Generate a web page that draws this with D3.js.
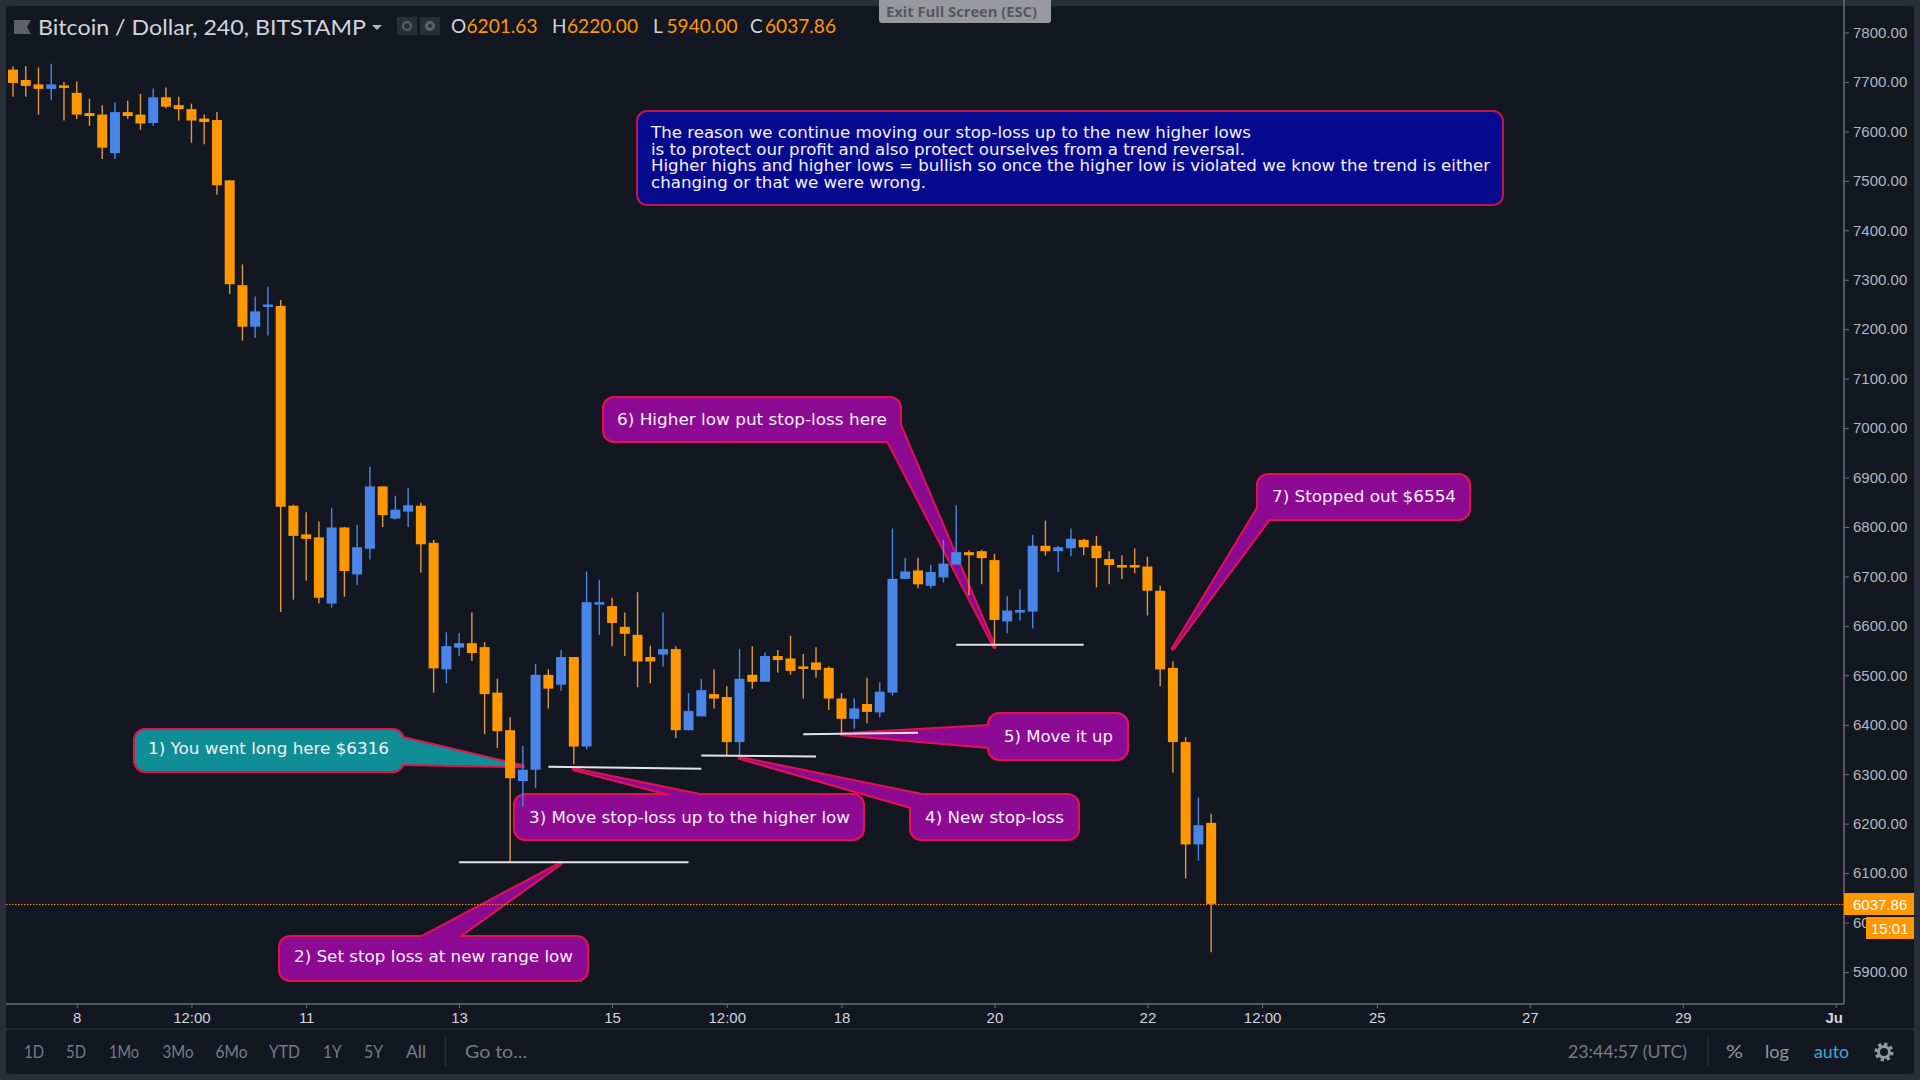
<!DOCTYPE html>
<html lang="en">
<head>
<meta charset="UTF-8">
<title>Bitcoin / Dollar, 240, BITSTAMP</title>
<style>
    html, body { margin: 0; padding: 0; background: #2a2e39; }
    svg { display: block; }
    .ui { font-family: Lato, "Open Sans", sans-serif; }
    .note { font-family: "DejaVu Sans", sans-serif; fill: #f4f0fa; }
    .axis text { font-family: "Liberation Sans", Arial, sans-serif; font-size: 15px; }
</style>
</head>
<body>
<svg id="chart" width="1920" height="1080"></svg>
<script src="https://d3js.org/d3.v7.min.js"></script>
<script>
// 4h candles, first bar is 7 June 04:00
const opens = [7725,7704,7695,7686,7693,7678,7637,7634,7556,7639,7634,7617,7669,7653,7645,7626,7623,7501,7289,7205,7245,7247,6843,6785,6779,6645,6799,6704,6756,6882,6817,6831,6843,6768,6512,6556,6565,6557,6465,6389,6286,6309,6501,6481,6537,6356,6644,6640,6598,6582,6537,6542,6553,6389,6417,6462,6456,6365,6501,6487,6539,6534,6518,6526,6515,6453,6412,6442,6425,6465,6695,6712,6681,6698,6724,6749,6751,6733,6609,6629,6629,6762,6751,6757,6774,6762,6735,6723,6723,6720,6671,6515,6365,6158,6201.63];
const highs = [7731,7732,7729,7737,7700,7701,7666,7653,7659,7662,7676,7687,7689,7670,7656,7634,7639,7501,7331,7266,7286,7259,6845,6830,6811,6838,6800,6804,6922,6882,6863,6879,6849,6774,6587,6585,6627,6567,6493,6415,6357,6523,6512,6551,6537,6710,6693,6657,6627,6668,6560,6627,6559,6464,6493,6512,6478,6553,6559,6546,6551,6580,6543,6557,6518,6464,6453,6495,6486,6797,6738,6738,6723,6774,6844,6753,6754,6746,6660,6674,6784,6813,6762,6797,6776,6782,6751,6743,6757,6740,6681,6528,6375,6253,6220];
const lows = [7670,7670,7634,7663,7622,7625,7611,7544,7544,7625,7603,7611,7647,7622,7577,7574,7472,7271,7177,7182,7187,6628,6653,6692,6645,6637,6659,6682,6734,6800,6815,6800,6708,6465,6484,6539,6529,6381,6353,6122,6234,6272,6433,6469,6320,6350,6582,6559,6539,6476,6484,6518,6373,6389,6417,6433,6339,6339,6473,6487,6505,6501,6453,6495,6430,6381,6392,6403,6415,6459,6695,6676,6676,6688,6724,6662,6684,6561,6585,6611,6595,6742,6709,6741,6743,6678,6684,6695,6706,6621,6478,6303,6089,6125,5940];
const closes = [7698,7692,7686,7695,7689,7634,7631,7567,7639,7631,7616,7669,7650,7645,7622,7619,7491,7291,7205,7236,7250,6841,6782,6776,6657,6799,6711,6759,6882,6824,6835,6844,6765,6514,6559,6565,6545,6462,6387,6292,6309,6501,6473,6537,6356,6648,6648,6606,6584,6528,6528,6553,6389,6428,6470,6453,6365,6493,6487,6539,6531,6509,6513,6511,6453,6412,6433,6426,6467,6695,6710,6684,6709,6726,6749,6743,6737,6612,6631,6632,6762,6751,6759,6776,6759,6737,6723,6720,6718,6671,6512,6365,6158,6197,6037.86];

const priceTicks = d3.range(5900, 7900, 100);
const timeBars = [5, 14, 23, 35, 47, 56, 65, 77, 89, 98, 107, 119, 131, 143];
const timeLabels = ['8', '12:00', '11', '13', '15', '12:00', '18', '20', '22', '12:00', '25', '27', '29', 'Ju'];

const rangeLabels = ['1D', '5D', '1Mo', '3Mo', '6Mo', 'YTD', '1Y', '5Y', 'All'];
const rangeX = [24, 66, 109, 162.5, 215.5, 269, 323, 364, 406];
const rangeW = [20, 20, 30, 31, 32, 31, 18.5, 19, 20];

const noteLines = [
    'The reason we continue moving our stop-loss up to the new higher lows',
    'is to protect our profit and also protect ourselves from a trend reversal.',
    'Higher highs and higher lows = bullish so once the higher low is violated we know the trend is either',
    'changing or that we were wrong.'
];
const noteWidths = [600, 594, 839, 275];

const calloutTexts = [
    '1) You went long here $6316',
    '2) Set stop loss at new range low',
    '3) Move stop-loss up to the higher low',
    '4) New stop-loss',
    '5) Move it up',
    '6) Higher low put stop-loss here',
    '7) Stopped out $6554'
];
const calloutBars = [40, 43, 44, 57, 65, 77, 91];
const calloutPrices = [6316, 6120, 6310, 6333, 6381, 6557, 6554];

// trend lines: bar from, price from, bar to, price to
const stopLines = [
    [35, 6122, 53, 6122],
    [42, 6315, 54, 6311],
    [54, 6338, 63, 6336],
    [62, 6381, 71, 6384],
    [74, 6562, 84, 6562]
];

// box and wedge base in page pixels
const calloutLayout = [
    { x: 135, y: 730, w: 268, h: 41, base: [[403, 738], [403, 764]], tx: 148, ty: 754, tw: 241, fill: '#0f8f95' },
    { x: 280, y: 937, w: 307, h: 43, base: [[422, 937], [458, 937]], tx: 294, ty: 962, tw: 279, fill: '#8d0b92' },
    { x: 515, y: 795, w: 348, h: 44, base: [[673, 795], [700, 795]], tx: 529, ty: 823, tw: 321, fill: '#8d0b92' },
    { x: 911, y: 795, w: 167, h: 44, base: [[922, 795], [911, 807]], tx: 925, ty: 823, tw: 139, fill: '#8d0b92' },
    { x: 989, y: 714, w: 138, h: 45, base: [[989, 726], [989, 747]], tx: 1004, ty: 741.5, tw: 109, fill: '#8d0b92' },
    { x: 604, y: 398, w: 296, h: 43, base: [[888, 441], [900, 425]], tx: 617, ty: 424.5, tw: 270, fill: '#8d0b92' },
    { x: 1258, y: 475, w: 211, h: 44, base: [[1258, 508], [1269, 519]], tx: 1272, ty: 502, tw: 184, fill: '#8d0b92' }
];

const orange = '#ff9800', blue = '#4a86e8', panel = '#131722', crimson = '#e3124f';
const last = opens.length - 1;
const svg = d3.select('#chart');

const x = d3.scaleLinear().domain([0, 143]).range([13, 1835.7]);
const y = d3.scaleLinear().domain([5900, 7800]).range([972, 32.5]);

svg.append('rect').attr('x', 6).attr('y', 6).attr('width', 1908).attr('height', 1068).attr('rx', 4).attr('fill', panel);

// drawings sit under the candles: thick stroke first, then the fill on top gives one outline
const bubbles = svg.append('g');
calloutLayout.forEach((c, i) => {
    const wedge = [[x(calloutBars[i]), y(calloutPrices[i])], c.base[0], c.base[1]];
    const shape = g => {
        g.append('rect').attr('x', c.x).attr('y', c.y).attr('width', c.w).attr('height', c.h).attr('rx', 10);
        g.append('path').attr('d', d3.line()(wedge) + 'Z');
    };
    bubbles.append('g').attr('fill', crimson).attr('stroke', crimson).attr('stroke-width', 4).attr('stroke-linejoin', 'round').call(shape);
    bubbles.append('g').attr('fill', c.fill).call(shape);
});

// candles
const candle = svg.append('g').selectAll('g').data(opens).join('g')
    .attr('fill', (d, i) => closes[i] >= d ? blue : orange)
    .attr('stroke', (d, i) => closes[i] >= d ? blue : '#e0993a');
candle.append('line')
    .attr('x1', (d, i) => x(i)).attr('x2', (d, i) => x(i))
    .attr('y1', (d, i) => y(highs[i])).attr('y2', (d, i) => y(lows[i]))
    .attr('stroke-width', 1.4);
candle.append('rect')
    .attr('x', (d, i) => x(i) - 5).attr('width', 10)
    .attr('y', (d, i) => y(Math.max(d, closes[i])))
    .attr('height', (d, i) => Math.max(2.5, Math.abs(y(d) - y(closes[i]))))
    .attr('stroke', 'none');

svg.append('g').selectAll('line').data(stopLines).join('line')
    .attr('x1', d => x(d[0])).attr('y1', d => y(d[1]))
    .attr('x2', d => x(d[2])).attr('y2', d => y(d[3]))
    .attr('stroke', '#e4e4e8').attr('stroke-width', 2);

svg.append('g').selectAll('text').data(calloutTexts).join('text')
    .attr('class', 'note')
    .attr('x', (d, i) => calloutLayout[i].tx)
    .attr('y', (d, i) => calloutLayout[i].ty)
    .attr('font-size', 16)
    .attr('textLength', (d, i) => calloutLayout[i].tw)
    .attr('lengthAdjust', 'spacingAndGlyphs')
    .text(d => d);

// info box
svg.append('rect').attr('x', 637).attr('y', 111).attr('width', 866).attr('height', 94).attr('rx', 10)
    .attr('fill', '#060a8e').attr('stroke', '#c2134f').attr('stroke-width', 2);
svg.append('g').selectAll('text').data(noteLines).join('text')
    .attr('class', 'note')
    .attr('x', 651)
    .attr('y', (d, i) => 138 + i * 16.5)
    .attr('font-size', 16)
    .attr('textLength', (d, i) => noteWidths[i])
    .attr('lengthAdjust', 'spacingAndGlyphs')
    .text(d => d);

// axes
const yAxis = svg.append('g').attr('class', 'axis').attr('transform', 'translate(1844,0)')
    .call(d3.axisRight(y).tickValues(priceTicks).tickFormat(d3.format('.2f')).tickSize(5).tickPadding(4));
yAxis.select('.domain').attr('d', 'M0,0V1004').attr('stroke', '#6b6e78').attr('stroke-width', 1.5);
yAxis.selectAll('line').attr('stroke', '#6b6e78');
yAxis.selectAll('text').attr('fill', '#b2b5be');

const xAxis = svg.append('g').attr('class', 'axis').attr('transform', 'translate(0,1004)')
    .call(d3.axisBottom(x).tickValues(timeBars).tickFormat((d, i) => timeLabels[i]).tickSize(4).tickPadding(4));
xAxis.select('.domain').attr('d', 'M6,0H1844').attr('stroke', '#6b6e78').attr('stroke-width', 1.5);
xAxis.selectAll('line').attr('stroke', '#6b6e78');
xAxis.selectAll('text').attr('fill', '#d1d4dc')
    .attr('font-weight', d => d === 143 ? 'bold' : null)
    .attr('dx', d => d === 143 ? -2 : 0);

svg.append('line').attr('x1', 6).attr('x2', 1914).attr('y1', 1029).attr('y2', 1029).attr('stroke', '#2a2e39').attr('stroke-width', 1.5);

// last price line and labels
const lastY = Math.round(y(closes[last]));
svg.append('line').attr('x1', 6).attr('x2', 1844).attr('y1', lastY + 0.5).attr('y2', lastY + 0.5)
    .attr('stroke', orange).attr('stroke-dasharray', '1.5 1.5').attr('opacity', 0.9);
svg.append('rect').attr('x', 1844).attr('y', lastY - 11).attr('width', 70).attr('height', 22).attr('fill', orange);
svg.append('text').attr('x', 1853).attr('y', lastY + 5.5).attr('fill', '#fff')
    .style('font-family', '"Liberation Sans", Arial, sans-serif').style('font-size', '15px')
    .text(d3.format('.2f')(closes[last]));
svg.append('rect').attr('x', 1866).attr('y', 917).attr('width', 48).attr('height', 22).attr('fill', orange);
svg.append('text').attr('x', 1871).attr('y', 933.5).attr('fill', '#fff')
    .style('font-family', '"Liberation Sans", Arial, sans-serif').style('font-size', '15px').text('15:01');

// header
svg.append('path').attr('d', 'M14,20H31L27,27L31,34H14Z').attr('fill', '#5d606b');
svg.append('text').attr('class', 'ui').attr('x', 38).attr('y', 35).attr('font-size', 22).attr('fill', '#d1d4dc')
    .attr('textLength', 328).attr('lengthAdjust', 'spacingAndGlyphs').text('Bitcoin / Dollar, 240, BITSTAMP');
svg.append('path').attr('d', 'M372,25H382L377,30Z').attr('fill', '#b2b5be');
svg.append('rect').attr('x', 397).attr('y', 17).attr('width', 20).attr('height', 18).attr('fill', '#2a2e39');
svg.append('rect').attr('x', 420).attr('y', 17).attr('width', 20).attr('height', 18).attr('fill', '#2a2e39');
svg.append('circle').attr('cx', 407).attr('cy', 26).attr('r', 4).attr('fill', 'none').attr('stroke', '#5d606b').attr('stroke-width', 2);
svg.append('circle').attr('cx', 430).attr('cy', 26).attr('r', 5).attr('fill', '#5d606b');
svg.append('circle').attr('cx', 430).attr('cy', 26).attr('r', 2).attr('fill', '#2a2e39');

const ohlcNames = ['O', 'H', 'L', 'C'];
const ohlcValues = [opens[last], highs[last], lows[last], closes[last]];
const ohlcNameX = [451, 552, 653, 750];
const ohlcValueX = [466.5, 567, 666.5, 765];
ohlcNames.forEach((n, i) => {
    svg.append('text').attr('class', 'ui').attr('x', ohlcNameX[i]).attr('y', 33).attr('font-size', 19).attr('fill', '#d1d4dc').text(n);
    svg.append('text').attr('class', 'ui').attr('x', ohlcValueX[i]).attr('y', 33).attr('font-size', 19).attr('fill', orange)
        .attr('textLength', 71).attr('lengthAdjust', 'spacingAndGlyphs').text(d3.format('.2f')(ohlcValues[i]));
});

svg.append('path').attr('d', 'M879,0H1051V20Q1051,23 1048,23H882Q879,23 879,20Z').attr('fill', '#98999e');
svg.append('text').attr('x', 886).attr('y', 17).attr('font-size', 14).attr('font-weight', 'bold').attr('fill', '#56575c')
    .style('font-family', '"Open Sans", sans-serif').attr('textLength', 151).attr('lengthAdjust', 'spacingAndGlyphs').text('Exit Full Screen (ESC)');

// bottom toolbar
const toolColor = '#787b86';
const toolbar = (txt, tx, tw, fill) => svg.append('text').attr('class', 'ui').attr('x', tx).attr('y', 1058)
    .attr('font-size', 17).attr('fill', fill)
    .attr('textLength', tw).attr('lengthAdjust', 'spacingAndGlyphs').text(txt);
rangeLabels.forEach((d, i) => toolbar(d, rangeX[i], rangeW[i], toolColor));
toolbar('Go to...', 465, 62, toolColor);
toolbar('23:44:57 (UTC)', 1568, 119, toolColor);
toolbar('%', 1726, 17, '#9598a1');
toolbar('log', 1765, 24, '#9598a1');
toolbar('auto', 1814, 35, '#3fa9dc');
svg.append('line').attr('x1', 445.5).attr('x2', 445.5).attr('y1', 1036).attr('y2', 1066).attr('stroke', '#2a2e39').attr('stroke-width', 1.5);
svg.append('line').attr('x1', 1708).attr('x2', 1708).attr('y1', 1036).attr('y2', 1066).attr('stroke', '#2a2e39').attr('stroke-width', 1.5);
svg.append('circle').attr('cx', 1884).attr('cy', 1052).attr('r', 5.5).attr('fill', 'none').attr('stroke', '#9598a1').attr('stroke-width', 3);
svg.append('circle').attr('cx', 1884).attr('cy', 1052).attr('r', 8).attr('fill', 'none').attr('stroke', '#9598a1').attr('stroke-width', 3)
    .attr('stroke-dasharray', '3.28 3');
</script>
</body>
</html>
